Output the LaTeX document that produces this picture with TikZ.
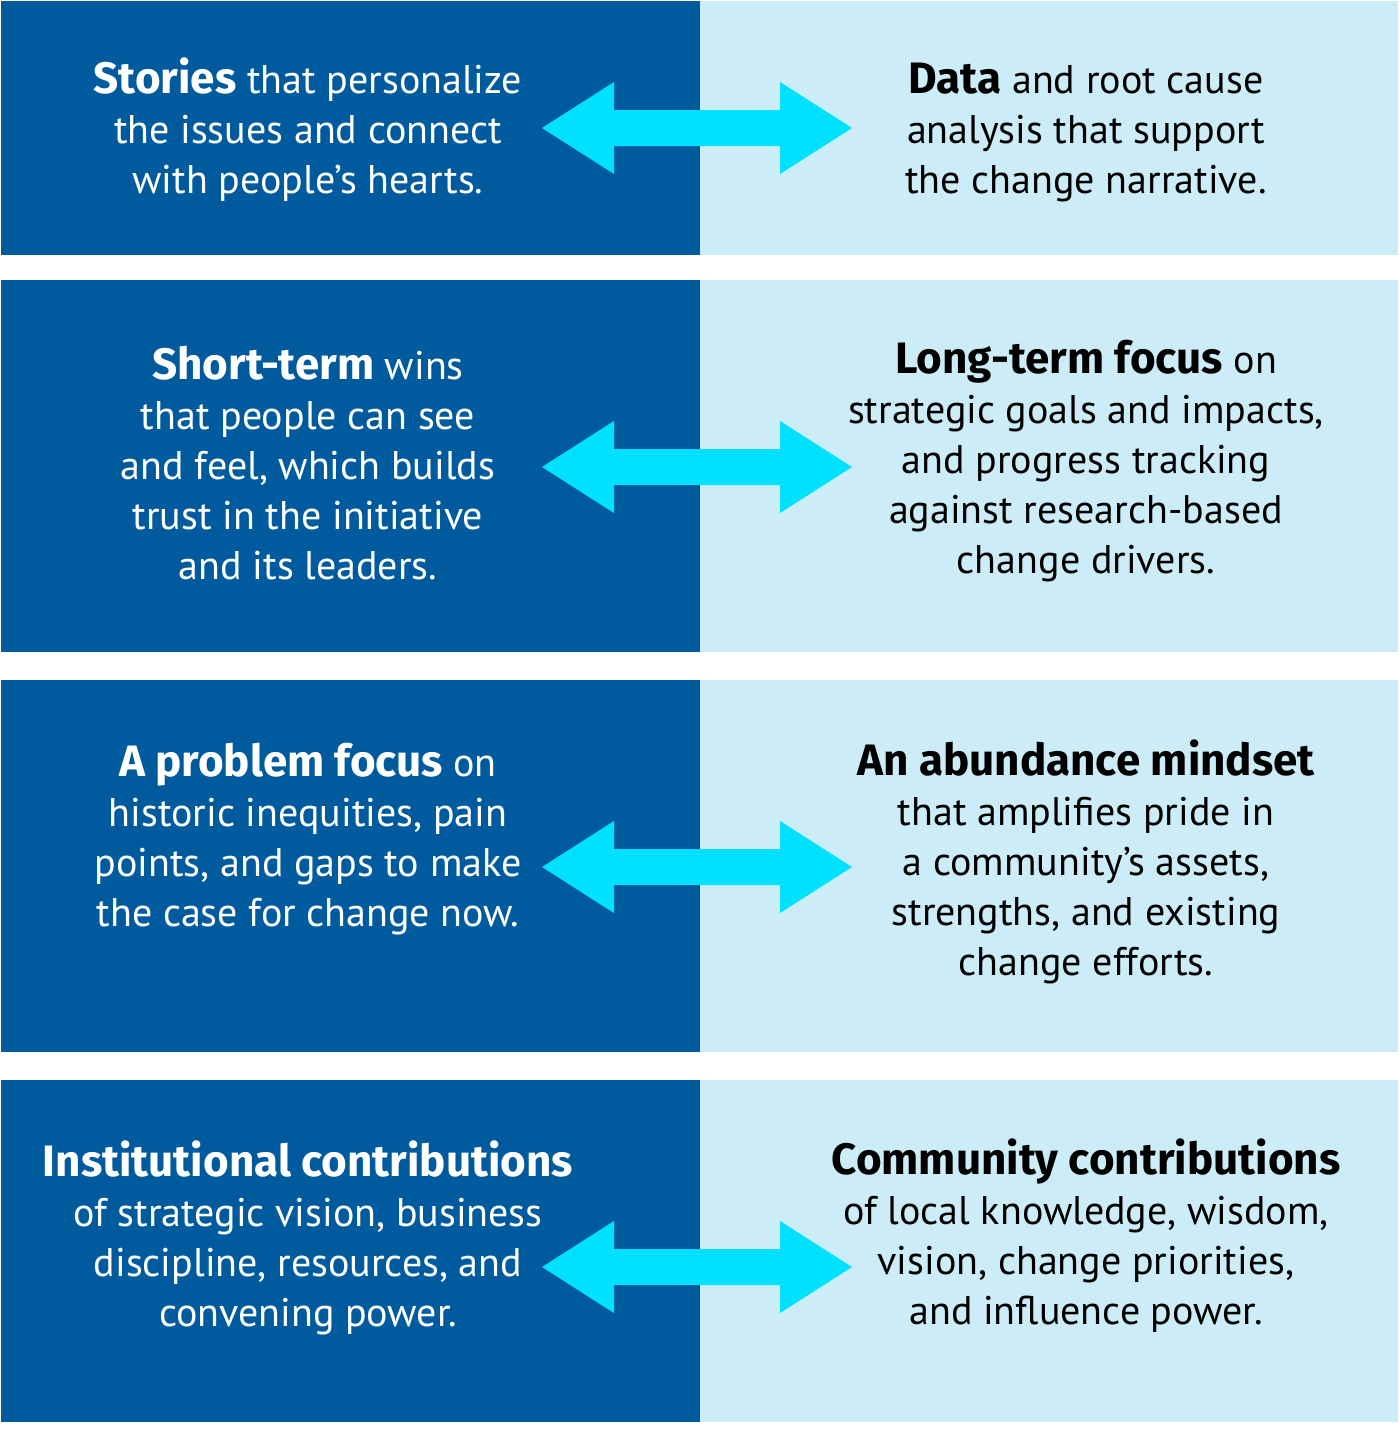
\documentclass[tikz,border=0pt]{standalone}
\usepackage{fontspec}
\setmainfont{PT Sans}
\newfontfamily\bfam{Fira Sans}
\newcommand\bt[1]{{\bfam\bfseries\fontsize{44}{50}\selectfont #1}}
\definecolor{darkblue}{RGB}{0,91,158}
\definecolor{lightblue}{RGB}{204,237,247}
\definecolor{cyanarrow}{RGB}{0,225,255}
\begin{document}
\begin{tikzpicture}[x=1pt,y=-1pt,
  darkcell/.style={fill=darkblue,draw=none},
  lightcell/.style={fill=lightblue,draw=none},
  lefttext/.style={text=white,align=center,font=\fontsize{40}{50}\selectfont,inner sep=0pt},
  righttext/.style={text=black,align=center,font=\fontsize{40}{50}\selectfont,inner sep=0pt},
  dblarrow/.style={fill=cyanarrow,draw=none}]
\useasboundingbox (0,0) rectangle (1400,1438);
\fill[white] (0,0) rectangle (1400,1438);
% rows
\foreach \t/\b in {1/255,280/652,680/1052,1080/1422}{
  \path[darkcell] (1,\t) rectangle (700,\b);
  \path[lightcell] (700,\t) rectangle (1398,\b);
}
% arrows
\foreach \c in {128,467,867,1267}{
  \path[dblarrow] (542,\c) -- (614,\c-46) -- (614,\c-18) -- (780,\c-18) -- (780,\c-46)
    -- (852,\c) -- (780,\c+46) -- (780,\c+18) -- (614,\c+18) -- (614,\c+46) -- cycle;
}
% texts
\node[lefttext] (l1) at (308,130) {\bt{Stories} that personalize\\the issues and connect\\with people’s hearts.};
\node[righttext] (r1) at (1086,132) {\bt{Data} and root cause\\analysis that support\\the change narrative.};
\node[lefttext] (l2) at (308,463) {\bt{Short-term} wins\\that people can see\\and feel, which builds\\trust in the initiative\\and its leaders.};
\node[righttext] (r2) at (1086,461) {\bt{Long-term focus} on\\strategic goals and impacts,\\and progress tracking\\against research-based\\change drivers.};
\node[lefttext] (l3) at (308,839) {\bt{A problem focus} on\\historic inequities, pain\\points, and gaps to make\\the case for change now.};
\node[righttext] (r3) at (1086,862) {\bt{An abundance mindset}\\that amplifies pride in\\a community’s assets,\\strengths, and existing\\change efforts.};
\node[lefttext] (l4) at (308,1238) {\bt{Institutional contributions}\\of strategic vision, business\\discipline, resources, and\\convening power.};
\node[righttext] (r4) at (1086,1236) {\bt{Community contributions}\\of local knowledge, wisdom,\\vision, change priorities,\\and influence power.};
\end{tikzpicture}
\end{document}
